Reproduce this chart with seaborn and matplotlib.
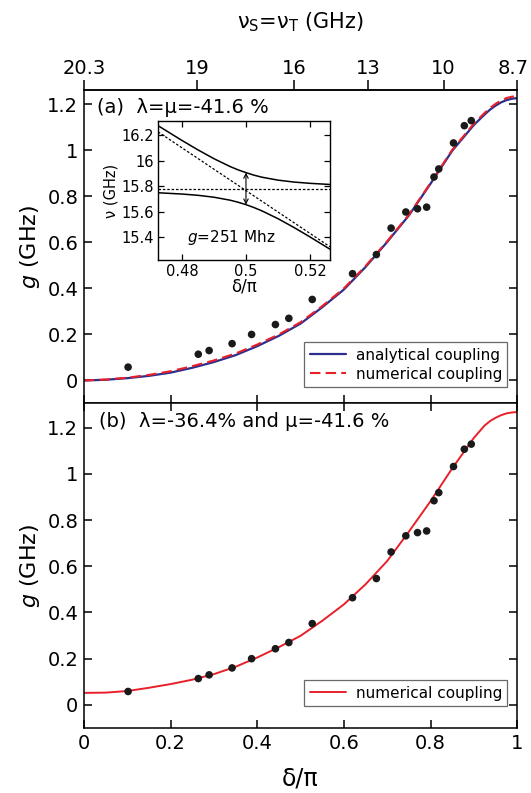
import matplotlib
matplotlib.use("Agg")
import matplotlib.pyplot as plt
import matplotlib.transforms as mtransforms
import seaborn as sns
import pandas as pd

# ---------------- data ----------------
delta_pts = [0.102, 0.264, 0.289, 0.342, 0.387, 0.442, 0.473, 0.527, 0.620, 0.675,
             0.709, 0.743, 0.770, 0.791, 0.808, 0.819, 0.853, 0.878, 0.894]
g_pts = [0.058, 0.114, 0.130, 0.160, 0.200, 0.243, 0.270, 0.352, 0.464, 0.547,
         0.662, 0.732, 0.746, 0.753, 0.884, 0.919, 1.032, 1.107, 1.129]

delta_curve = [0, 0.05, 0.1, 0.15, 0.2, 0.25, 0.3, 0.35, 0.4, 0.45, 0.5, 0.55, 0.6,
               0.65, 0.7, 0.75, 0.8, 0.85, 0.9, 0.925, 0.9375, 0.95, 0.9625, 0.975, 0.9875, 1.0]
g_analytic_a = [0, 0.003, 0.010, 0.020, 0.034, 0.055, 0.080, 0.110, 0.149, 0.194, 0.247,
                0.318, 0.395, 0.493, 0.602, 0.717, 0.855, 0.998, 1.110, 1.156, 1.177, 1.194,
                1.208, 1.218, 1.224, 1.227]
g_numeric_a = [0, 0.004, 0.012, 0.024, 0.040, 0.062, 0.087, 0.117, 0.156, 0.200, 0.253,
               0.323, 0.400, 0.497, 0.605, 0.720, 0.858, 1.002, 1.116, 1.163, 1.184, 1.202,
               1.216, 1.227, 1.233, 1.235]
g_numeric_b = [0.052, 0.053, 0.060, 0.074, 0.090, 0.109, 0.133, 0.165, 0.205, 0.250, 0.299,
               0.364, 0.435, 0.522, 0.623, 0.750, 0.882, 1.024, 1.156, 1.210, 1.229, 1.243,
               1.254, 1.262, 1.266, 1.268]

top_pos = [0, 0.262, 0.486, 0.656, 0.830, 1.0]
top_labels = ["20.3", "19", "16", "13", "10", "8.7"]

inset_delta = [0.4725, 0.48, 0.485, 0.49, 0.495, 0.4975, 0.5, 0.5025, 0.505, 0.51, 0.515, 0.52, 0.5263]
inset_upper = [16.274, 16.158, 16.084, 16.015, 15.954, 15.928, 15.906, 15.886, 15.870, 15.847, 15.832, 15.822, 15.813]
inset_lower = [15.748, 15.738, 15.728, 15.713, 15.690, 15.674, 15.655, 15.632, 15.606, 15.545, 15.476, 15.402, 15.305]
diag_delta = [0.4725, 0.5263]
diag_nu = [16.226, 15.324]
flat_nu = [15.78, 15.78]

# ---------------- style ----------------
sns.set_style("ticks")
plt.rcParams["font.family"] = ["DejaVu Sans"]
plt.rcParams["mathtext.fontset"] = "custom"
plt.rcParams["mathtext.rm"] = "DejaVu Sans"
plt.rcParams["mathtext.it"] = "DejaVu Sans:italic"
plt.rcParams["axes.linewidth"] = 1.1
for k in ("text.color", "axes.labelcolor", "xtick.color", "ytick.color", "axes.edgecolor"):
    plt.rcParams[k] = "black"

BLUE = "#2b2e8c"
RED = "#e8202a"
DOT = "#1a1a1a"
FS = 14

fig = plt.figure(figsize=(5.31, 7.93), dpi=100)
ax_a = fig.add_axes([0.158, 0.4912, 0.816, 0.3947])
ax_b = fig.add_axes([0.158, 0.0820, 0.816, 0.4092])

df_a = pd.DataFrame({"d": delta_curve, "an": g_analytic_a, "nu": g_numeric_a, "b": g_numeric_b})
df_p = pd.DataFrame({"d": delta_pts, "g": g_pts})

# panel (a)
sns.lineplot(data=df_a, x="d", y="an", ax=ax_a, color=BLUE, lw=1.6, label="analytical coupling", sort=False)
sns.lineplot(data=df_a, x="d", y="nu", ax=ax_a, color=RED, lw=1.5, label="numerical coupling",
             sort=False, dashes=False)
ax_a.lines[1].set_linestyle((0, (5, 2.5)))
sns.scatterplot(data=df_p, x="d", y="g", ax=ax_a, color=DOT, s=30, edgecolor="none", zorder=5)

# panel (b)
sns.lineplot(data=df_a, x="d", y="b", ax=ax_b, color=RED, lw=1.4, label="numerical coupling", sort=False)
sns.scatterplot(data=df_p, x="d", y="g", ax=ax_b, color=DOT, s=30, edgecolor="none", zorder=5)

yt = [0, 0.2, 0.4, 0.6, 0.8, 1.0, 1.2]
ytl = ["0", "0.2", "0.4", "0.6", "0.8", "1", "1.2"]
xt = [0, 0.2, 0.4, 0.6, 0.8, 1.0]
xtl = ["0", "0.2", "0.4", "0.6", "0.8", "1"]

for ax, ylim in ((ax_a, (-0.1, 1.26)), (ax_b, (-0.1, 1.305))):
    ax.set_xlim(0, 1)
    ax.set_ylim(*ylim)
    ax.set_yticks(yt, labels=ytl)
    ax.set_xticks(xt, labels=xtl)
    ax.tick_params(direction="in", length=6, width=1.1, labelsize=FS, pad=4,
                   left=True, right=True, bottom=True)
    ax.set_ylabel("$g$ (GHz)", fontsize=16, labelpad=4)
    for sp in ax.spines.values():
        sp.set_visible(True)
        sp.set_color("black")

ax_a.tick_params(top=False, labelbottom=False)
ax_a.set_xlabel("")
ax_b.tick_params(top=True)
ax_b.set_xlabel("δ/π", fontsize=17, labelpad=10)

sec = ax_a.secondary_xaxis("top")
sec.set_xticks(top_pos, labels=top_labels)
sec.tick_params(direction="out", length=7, width=1.1, labelsize=FS, pad=2)
sec.set_xlabel("ν$_\\mathrm{S}$=ν$_\\mathrm{T}$ (GHz)", fontsize=15, labelpad=22)
# keep the last top label inside the figure
last = sec.get_xticklabels()[-1]
last.set_transform(last.get_transform() + mtransforms.ScaledTranslation(-4 / 100, 0, fig.dpi_scale_trans))

ax_a.text(0.03, 0.975, "(a)  λ=μ=-41.6 %", transform=ax_a.transAxes, fontsize=FS, va="top")
ax_b.text(0.035, 0.975, "(b)  λ=-36.4% and μ=-41.6 %", transform=ax_b.transAxes, fontsize=FS, va="top")

leg_kw = dict(loc="lower right", frameon=True, fancybox=False, fontsize=11, handlelength=2.4,
              handletextpad=0.6, borderpad=0.35, labelspacing=0.25, borderaxespad=0)
la = ax_a.legend(bbox_to_anchor=(0.977, 0.053), **leg_kw)
lb = ax_b.legend(bbox_to_anchor=(0.977, 0.068), **leg_kw)
for lg in (la, lb):
    lg.get_frame().set_edgecolor("#444444")
    lg.get_frame().set_linewidth(0.9)

# inset
ins = fig.add_axes([0.2976, 0.672, 0.324, 0.1753])
df_i = pd.DataFrame({"d": inset_delta, "u": inset_upper, "l": inset_lower})
sns.lineplot(data=df_i, x="d", y="u", ax=ins, color="black", lw=1.1, sort=False)
sns.lineplot(data=df_i, x="d", y="l", ax=ins, color="black", lw=1.1, sort=False)
ins.plot(diag_delta, diag_nu, color="black", lw=0.9, ls=(0, (2, 1.5)))
ins.plot([diag_delta[0], diag_delta[1]], flat_nu, color="black", lw=0.9, ls=(0, (2, 1.5)))
ins.annotate("", xy=(0.5, inset_upper[6]), xytext=(0.5, inset_lower[6]),
             arrowprops=dict(arrowstyle="<->", lw=0.8, color="black", shrinkA=0, shrinkB=0,
                             mutation_scale=8))
ins.set_xlim(0.4725, 0.5263)
ins.set_ylim(15.22, 16.31)
ins.set_xticks([0.48, 0.5, 0.52], labels=["0.48", "0.5", "0.52"])
ins.set_yticks([15.4, 15.6, 15.8, 16.0, 16.2], labels=["15.4", "15.6", "15.8", "16", "16.2"])
ins.tick_params(direction="in", length=4, width=0.9, labelsize=10.5, pad=3,
                top=True, right=True, left=True, bottom=True)
for sp in ins.spines.values():
    sp.set_visible(True)
    sp.set_color("black")
    sp.set_linewidth(1.0)
ins.set_xlabel("δ/π", fontsize=12, labelpad=-1)
ins.set_ylabel("ν (GHz)", fontsize=10.5, labelpad=2)
ins.text(0.4955, 15.40, "$g$=251 Mhz", fontsize=11, ha="center", va="center")

fig.savefig("out.png", dpi=100)
